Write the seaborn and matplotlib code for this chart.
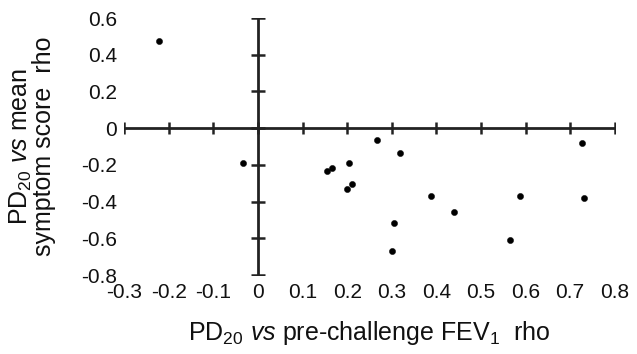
import numpy as np
import pandas as pd
import matplotlib
matplotlib.use("Agg")
import matplotlib.pyplot as plt
import seaborn as sns

# rho values
fev1_rho = [-0.221, -0.034, 0.155, 0.166, 0.204, 0.199, 0.210, 0.267, 0.318,
            0.387, 0.440, 0.306, 0.301, 0.588, 0.565, 0.726, 0.731]
symptom_rho = [0.473, -0.191, -0.231, -0.218, -0.191, -0.331, -0.304, -0.063, -0.136,
               -0.367, -0.455, -0.516, -0.667, -0.367, -0.607, -0.082, -0.382]

x_ticks = [-0.3, -0.2, -0.1, 0, 0.1, 0.2, 0.3, 0.4, 0.5, 0.6, 0.7, 0.8]
y_ticks = [0.6, 0.4, 0.2, 0, -0.2, -0.4, -0.6, -0.8]
x_labels = ["-0.3", "-0.2", "-0.1", "0", "0.1", "0.2", "0.3", "0.4", "0.5", "0.6", "0.7", "0.8"]
y_labels = ["0.6", "0.4", "0.2", "0", "-0.2", "-0.4", "-0.6", "-0.8"]

df = pd.DataFrame({"fev1": fev1_rho, "symptom": symptom_rho})

sns.set_style("white")
plt.rcParams['font.family'] = ['Liberation Sans', 'DejaVu Sans']
plt.rcParams['mathtext.fontset'] = 'custom'
plt.rcParams['mathtext.rm'] = 'Liberation Sans'
plt.rcParams['mathtext.it'] = 'Liberation Sans:italic'
plt.rcParams['mathtext.default'] = 'regular'

fig = plt.figure(figsize=(6.37, 3.54), dpi=100)
ax = fig.add_axes([0.195, 0.223, 0.77, 0.726])

xmin, xmax = x_ticks[0], x_ticks[-1]
ymin, ymax = y_ticks[-1], y_ticks[0]

# crossing axes through zero
ax.plot([xmin, xmax], [0, 0], color="#222222", lw=2, solid_capstyle="butt", zorder=2)
ax.plot([0, 0], [ymin, ymax], color="#222222", lw=2, solid_capstyle="butt", zorder=2)
ax.plot(x_ticks, [0] * len(x_ticks), ls="none", marker="|", ms=9, mew=1.8,
        color="#222222", zorder=2)
ax.plot([0] * len(y_ticks), y_ticks, ls="none", marker="_", ms=10, mew=1.8,
        color="#222222", zorder=2)

sns.scatterplot(data=df, x="fev1", y="symptom", color="black", s=20,
                edgecolor="black", linewidth=0.3, ax=ax, zorder=3)

ax.set_xlim(xmin, xmax)
ax.set_ylim(ymin, ymax)
ax.set_xticks(x_ticks)
ax.set_xticklabels(x_labels, fontsize=15, color="#111111")
ax.set_yticks(y_ticks)
ax.set_yticklabels(y_labels, fontsize=15, color="#111111")
ax.tick_params(axis="x", length=0, pad=6)
ax.tick_params(axis="y", length=0, pad=5)
for s in ax.spines.values():
    s.set_visible(False)

ax.set_xlabel(r"PD$_{20}$ $\it{vs}$ pre-challenge FEV$_1$  rho", fontsize=18,
              color="#111111", labelpad=12)
ax.set_ylabel("PD$_{20}$ $\\it{vs}$ mean\nsymptom score  rho", fontsize=18,
              color="#111111", labelpad=18, linespacing=0.9)

fig.savefig("out.png", dpi=100)
